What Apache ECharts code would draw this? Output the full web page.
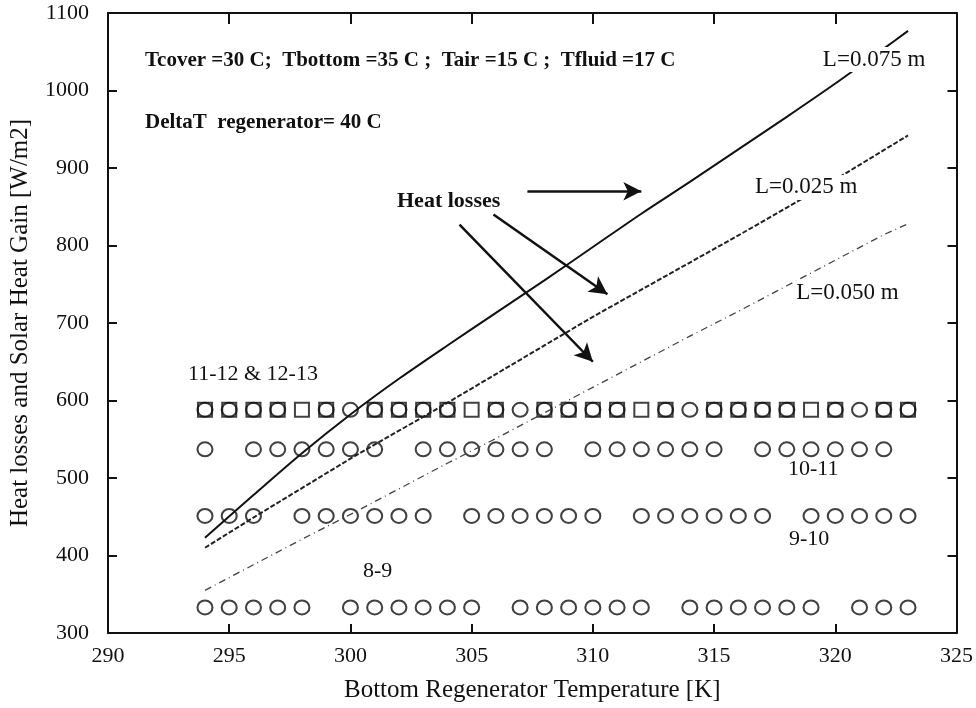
<!DOCTYPE html>
<html>
<head>
<meta charset="utf-8">
<script src="https://cdn.jsdelivr.net/npm/echarts@6/dist/echarts.min.js"></script>
<style>
  html, body { margin: 0; padding: 0; background: #ffffff; }
  #chart { width: 976px; height: 708px; }
</style>
</head>
<body>
<div id="chart"></div>
<script>
// Bottom regenerator temperature (K) of each hourly sample
const tempK = [294, 295, 296, 297, 298, 299, 300, 301, 302, 303, 304, 305, 306, 307, 308,
               309, 310, 311, 312, 313, 314, 315, 316, 317, 318, 319, 320, 321, 322, 323];

// Solar heat gain (W/m2) per time slot; null = no sample at that temperature
const gain11to12 = [588, 588, 588, 588, null, 588, 588, 588, 588, 588, 588, null, 588, 588, 588,
                    588, 588, 588, null, 588, 588, 588, 588, 588, 588, null, 588, 588, 588, 588];
const gain12to13 = [588, 588, 588, 588, 588, 588, null, 588, 588, 588, 588, 588, 588, null, 588,
                    588, 588, 588, 588, 588, null, 588, 588, 588, 588, 588, 588, null, 588, 588];
const gain10to11 = [537, null, 537, 537, 537, 537, 537, 537, null, 537, 537, 537, 537, 537, 537,
                    null, 537, 537, 537, 537, 537, 537, null, 537, 537, 537, 537, 537, 537, null];
const gain9to10  = [451, 451, 451, null, 451, 451, 451, 451, 451, 451, null, 451, 451, 451, 451,
                    451, 451, null, 451, 451, 451, 451, 451, 451, null, 451, 451, 451, 451, 451];
const gain8to9   = [333, 333, 333, 333, 333, null, 333, 333, 333, 333, 333, 333, null, 333, 333,
                    333, 333, 333, 333, null, 333, 333, 333, 333, 333, 333, null, 333, 333, 333];

// Heat losses (W/m2) for three regenerator thicknesses
const lossTempK = [294, 296, 298, 300, 302, 304, 306, 308, 310, 312, 314, 316, 318, 320, 322, 323];
const lossL075  = [423, 478, 532, 582, 628, 671, 713, 755, 798, 841, 882, 924, 966, 1009, 1054, 1077];
const lossL025  = [410, 449, 487, 525, 561, 597, 634, 671, 708, 743, 778, 813, 849, 885, 923, 942];
const lossL050  = [355, 388, 421, 453, 486, 519, 551, 584, 617, 650, 683, 715, 748, 781, 814, 828];

const xTicks = [290, 325, 5];
const yTicks = [300, 1100, 100];

const serif = '"Liberation Serif", "Times New Roman", serif';
const ink = '#111111';

const pair = (xs, ys) => xs.map((x, i) => [x, ys[i]]);

const hollowCircle = {
  type: 'scatter',
  symbol: 'circle',
  symbolSize: [15, 14],
  itemStyle: { color: 'rgba(0,0,0,0)', borderColor: ink, borderWidth: 2 },
  emphasis: { disabled: true },
  z: 3
};

// text-only marker placed at a data coordinate
const curveLabel = (text, coord) => ({
  symbol: 'rect', symbolSize: 1, silent: true,
  itemStyle: { color: 'rgba(0,0,0,0)' },
  label: {
    show: true, position: 'inside', formatter: text,
    fontFamily: serif, fontSize: 23, color: ink,
    backgroundColor: '#ffffff', padding: [1, 2]
  },
  data: [{ coord: coord }]
});

const chart = echarts.init(document.getElementById('chart'), null, { renderer: 'canvas' });

const axisCommon = {
  type: 'value',
  splitLine: { show: false },
  axisLine: { show: true, onZero: false, lineStyle: { color: ink, width: 2 } },
  axisTick: { show: true, inside: true, length: 9, lineStyle: { color: ink, width: 2 } }
};

chart.setOption({
  animation: false,
  backgroundColor: '#ffffff',
  grid: { left: 108, right: 19, top: 13, bottom: 74 },
  xAxis: [
    Object.assign({}, axisCommon, {
      min: xTicks[0], max: xTicks[1], interval: xTicks[2],
      position: 'bottom',
      axisLabel: { fontFamily: serif, fontSize: 22, color: ink, margin: 12 },
      name: 'Bottom Regenerator Temperature [K]',
      nameLocation: 'middle', nameGap: 45,
      nameTextStyle: { fontFamily: serif, fontSize: 25, color: ink }
    }),
    Object.assign({}, axisCommon, {
      min: xTicks[0], max: xTicks[1], interval: xTicks[2],
      position: 'top', axisLabel: { show: false },
      axisTick: { show: true, inside: true, length: 11, lineStyle: { color: ink, width: 2 } }
    })
  ],
  yAxis: [
    Object.assign({}, axisCommon, {
      min: yTicks[0], max: yTicks[1], interval: yTicks[2],
      position: 'left',
      axisLabel: { fontFamily: serif, fontSize: 22, color: ink, margin: 19, formatter: v => String(v) },
      name: 'Heat losses and Solar Heat Gain [W/m2]',
      nameLocation: 'middle', nameGap: 75,
      nameTextStyle: { fontFamily: serif, fontSize: 25, color: ink }
    }),
    Object.assign({}, axisCommon, {
      min: yTicks[0], max: yTicks[1], interval: yTicks[2],
      position: 'right', axisLabel: { show: false }
    })
  ],
  series: [
    {
      name: 'L=0.075 m', type: 'line', data: pair(lossTempK, lossL075),
      showSymbol: false, smooth: 0.3, z: 4,
      lineStyle: { color: ink, width: 2 },
      markPoint: curveLabel('L=0.075 m', [321.6, 1040]),
      markLine: {
        silent: true, symbol: ['none', 'arrow'], symbolSize: [14, 18],
        lineStyle: { color: ink, width: 2.5, type: 'solid' },
        label: { show: false },
        data: [
          [{ coord: [307.3, 870] }, { coord: [312.0, 870] }],
          [{ coord: [305.9, 840] }, { coord: [310.6, 737] }],
          [{ coord: [304.5, 827] }, { coord: [310.0, 650] }]
        ]
      }
    },
    {
      name: 'L=0.025 m', type: 'line', data: pair(lossTempK, lossL025),
      showSymbol: false, z: 4,
      lineStyle: { color: '#222222', width: 2, type: [5, 2] },
      markPoint: curveLabel('L=0.025 m', [318.8, 875])
    },
    {
      name: 'L=0.050 m', type: 'line', data: pair(lossTempK, lossL050),
      showSymbol: false, z: 4,
      lineStyle: { color: '#444444', width: 1.3, type: [7, 4, 1, 4] },
      markPoint: curveLabel('L=0.050 m', [320.5, 739])
    },
    Object.assign({}, hollowCircle, { name: '11-12', data: pair(tempK, gain11to12) }),
    {
      name: '12-13', type: 'scatter', symbol: 'rect', symbolSize: 14,
      itemStyle: { color: 'rgba(0,0,0,0)', borderColor: ink, borderWidth: 2 },
      emphasis: { disabled: true }, z: 3,
      data: pair(tempK, gain12to13)
    },
    Object.assign({}, hollowCircle, { name: '10-11', data: pair(tempK, gain10to11) }),
    Object.assign({}, hollowCircle, { name: '9-10', data: pair(tempK, gain9to10) }),
    Object.assign({}, hollowCircle, { name: '8-9', data: pair(tempK, gain8to9) })
  ],
  graphic: [
    { type: 'text', left: 145, top: 50, style: {
        text: 'Tcover =30 C;  Tbottom =35 C ;  Tair =15 C ;  Tfluid =17 C',
        font: 'bold 21px ' + serif, fill: ink } },
    { type: 'text', left: 145, top: 112, style: {
        text: 'DeltaT  regenerator= 40 C', font: 'bold 21px ' + serif, fill: ink } },
    { type: 'text', left: 397, top: 190, style: {
        text: 'Heat losses', font: 'bold 22px ' + serif, fill: ink } },
    { type: 'text', left: 188, top: 363, style: {
        text: '11-12 & 12-13', font: '22px ' + serif, fill: ink } },
    { type: 'text', left: 788, top: 458, style: {
        text: '10-11', font: '22px ' + serif, fill: ink } },
    { type: 'text', left: 789, top: 528, style: {
        text: '9-10', font: '22px ' + serif, fill: ink } },
    { type: 'text', left: 363, top: 560, style: {
        text: '8-9', font: '22px ' + serif, fill: ink } }
  ]
});
</script>
</body>
</html>
